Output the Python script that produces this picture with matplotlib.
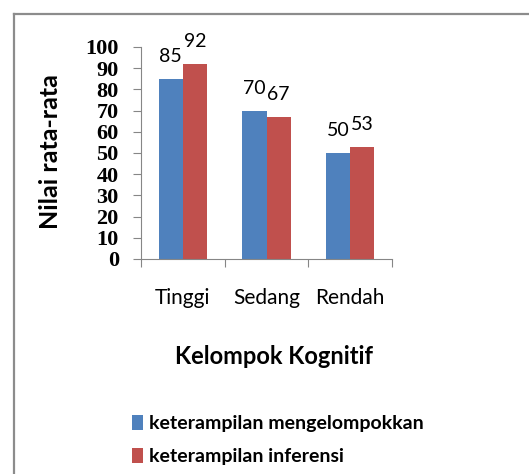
import numpy as np
import matplotlib.pyplot as plt
from matplotlib.lines import Line2D

categories = ['Tinggi', 'Sedang', 'Rendah']
mengelompokkan = [85, 70, 50]
inferensi = [92, 67, 53]
series_names = ['keterampilan mengelompokkan', 'keterampilan inferensi']
yticks = [0, 10, 20, 30, 40, 50, 60, 70, 80, 90, 100]

sans = ['Lato', 'DejaVu Sans']
serif = ['Liberation Serif', 'DejaVu Serif']
blue = '#4F81BD'
red = '#C0504D'
axis_grey = '#868686'

W, H = 529, 474
fig = plt.figure(figsize=(W / 100, H / 100), dpi=100)
ax = fig.add_axes([141 / W, 1 - 259 / H, (392 - 141) / W, (259 - 47) / H])

x = np.arange(len(categories))
w = 0.287
b1 = ax.bar(x - w / 2, mengelompokkan, w, color=blue, label=series_names[0])
b2 = ax.bar(x + w / 2, inferensi, w, color=red, label=series_names[1])

for bars in (b1, b2):
    for rect in bars:
        ax.annotate('{}'.format(int(rect.get_height())),
                    (rect.get_x() + rect.get_width() / 2, rect.get_height()),
                    xytext=(0, 12), textcoords='offset points',
                    ha='center', va='baseline', fontsize=14, family=sans)

ax.set_xlim(-0.5, 2.5)
ax.set_ylim(0, 100)
ax.set_yticks(yticks)
ax.set_yticklabels([str(v) for v in yticks], family=serif, fontsize=16, fontweight='bold')
ax.set_xticks([-0.5, 0.5, 1.5, 2.5])
ax.set_xticklabels([])
ax.set_xticks(x, minor=True)
ax.set_xticklabels(categories, minor=True, family=sans, fontsize=15)
ax.tick_params(axis='x', which='minor', length=0, pad=21)
ax.tick_params(axis='x', which='major', length=6, color=axis_grey, direction='out')
ax.tick_params(axis='y', length=6, color=axis_grey, pad=10)

for side in ('top', 'right'):
    ax.spines[side].set_visible(False)
for side in ('left', 'bottom'):
    ax.spines[side].set_color(axis_grey)

fig.text(51 / W, 1 - 152 / H, 'Nilai rata-rata', rotation=90, ha='center', va='center',
         fontsize=18, fontweight='bold', family=sans)
fig.text(274 / W, 1 - 357 / H, 'Kelompok Kognitif', ha='center', va='center',
         fontsize=17, fontweight='bold', family=sans)

fig.legend(handles=[b1, b2], loc='upper left', bbox_to_anchor=(114 / W, 1 - 397 / H),
           frameon=False, prop={'family': sans, 'size': 14, 'weight': 'bold'},
           handlelength=0.6, handleheight=0.85, handletextpad=0.3, labelspacing=0.8)

# outer frame (left and top edges only visible in the crop)
fig.add_artist(Line2D([14 / W, 14 / W], [0, 1 - 14 / H], color='#8c8c8c', lw=1.6,
                      transform=fig.transFigure))
fig.add_artist(Line2D([14 / W, 1], [1 - 14 / H, 1 - 14 / H], color='#8c8c8c', lw=1.6,
                      transform=fig.transFigure))

fig.savefig('out.png', dpi=100)
